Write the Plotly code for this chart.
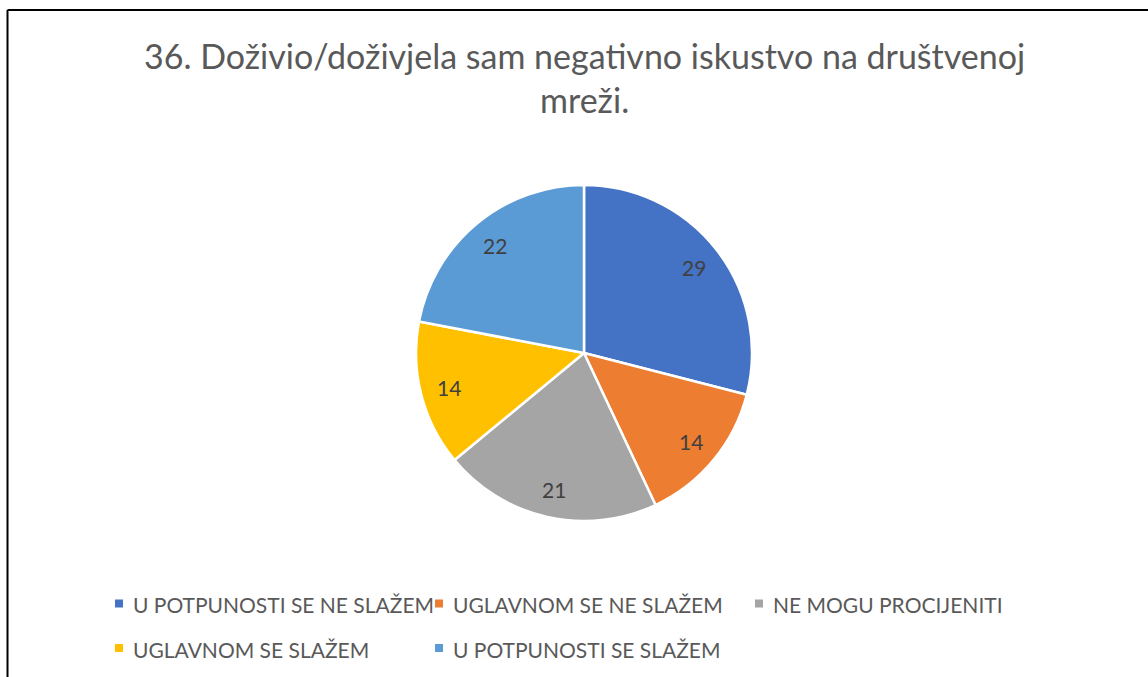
import math
import plotly.graph_objects as go

# Survey answers and counts
categories = [
    "U POTPUNOSTI SE NE SLAŽEM",
    "UGLAVNOM SE NE SLAŽEM",
    "NE MOGU PROCIJENITI",
    "UGLAVNOM SE SLAŽEM",
    "U POTPUNOSTI SE SLAŽEM",
]
counts = [29, 14, 21, 14, 22]
colors = ["#4472C4", "#ED7D31", "#A5A5A5", "#FFC000", "#5B9BD5"]

title_text = "36. Doživio/doživjela sam negativno iskustvo na društvenoj<br>mreži."

W, H = 1148, 677
cx, cy, r = 584, 353, 168  # pie centre and radius in pixels

FONT = "Lato"
TEXT_GREY = "#595959"


def px(x):
    return x / W


def py(y):
    return (H - y) / H


fig = go.Figure(
    go.Pie(
        labels=categories,
        values=counts,
        marker=dict(colors=colors, line=dict(color="white", width=2.5)),
        sort=False,
        direction="clockwise",
        rotation=0,
        textinfo="none",
        domain=dict(x=[px(cx - r), px(cx + r)], y=[py(cy + r), py(cy - r)]),
        hoverinfo="label+value",
        showlegend=False,
    )
)

annotations = [
    dict(
        text=title_text,
        x=px(cx),
        y=py(33),
        xref="paper",
        yref="paper",
        xanchor="center",
        yanchor="top",
        showarrow=False,
        font=dict(family=FONT, size=34, color=TEXT_GREY),
        align="center",
    )
]
shapes = [
    # chart frame: top and left edges
    dict(type="line", xref="paper", yref="paper",
         x0=px(7.5), x1=1, y0=py(10), y1=py(10),
         line=dict(color="black", width=2)),
    dict(type="line", xref="paper", yref="paper",
         x0=px(7.5), x1=px(7.5), y0=0, y1=py(10),
         line=dict(color="black", width=2)),
]

# value labels placed at the middle angle of each slice
total = sum(counts)
cum = 0
label_r = 0.83 * r
for v in counts:
    mid = (cum + v / 2) / total * 2 * math.pi  # clockwise from 12 o'clock
    cum += v
    lx = cx + label_r * math.sin(mid)
    ly = cy - label_r * math.cos(mid)
    annotations.append(
        dict(text=str(v), x=px(lx), y=py(ly), xref="paper", yref="paper",
             xanchor="center", yanchor="middle", showarrow=False,
             font=dict(family=FONT, size=21, color="#404040"))
    )

# legend: three columns, wrapping onto a second row
col_x = 119
col_step = 320
row_y = 603.5
row_step = 44.5
sq = 8
for i, (name, col) in enumerate(zip(categories, colors)):
    mx = col_x + (i % 3) * col_step
    my = row_y + (i // 3) * row_step
    shapes.append(
        dict(type="rect", xref="paper", yref="paper",
             x0=px(mx - sq / 2), x1=px(mx + sq / 2),
             y0=py(my + sq / 2), y1=py(my - sq / 2),
             fillcolor=col, line=dict(width=0))
    )
    annotations.append(
        dict(text=name, x=px(mx + 12), y=py(my + 1), xref="paper", yref="paper",
             xanchor="left", yanchor="middle", showarrow=False,
             font=dict(family=FONT, size=21, color=TEXT_GREY))
    )

fig.update_layout(
    width=W,
    height=H,
    margin=dict(l=0, r=0, t=0, b=0),
    paper_bgcolor="white",
    plot_bgcolor="white",
    showlegend=False,
    annotations=annotations,
    shapes=shapes,
)

fig.write_html("out.html")
